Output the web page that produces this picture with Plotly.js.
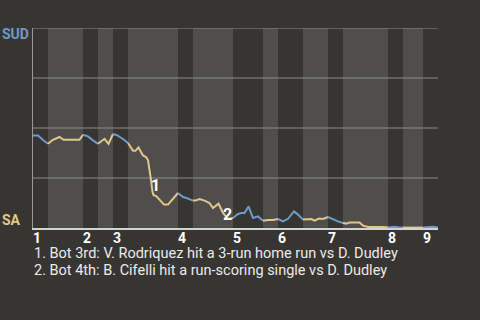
<!DOCTYPE html>
<html>
<head>
<meta charset="utf-8">
<script src="https://cdn.plot.ly/plotly-3.0.1.min.js"></script>
<style>
  html, body { margin: 0; padding: 0; background: #373531; }
  #chart { width: 480px; height: 320px; }
</style>
</head>
<body>
<div id="chart"></div>
<script>
// Plate-appearance index along the game and SUD win probability after each event
const playX = [
  0, 1, 2, 3,
  4, 5.3, 6.1, 9.3, 10,
  11, 12, 13,
  14.3, 15.1, 16,
  16.7, 18, 19,
  20, 20.5, 21.1, 22, 22.6, 23, 23.3, 23.6, 23.9, 24.1, 24.7, 25.3, 26.2, 27, 27.7, 28.3, 29,
  30, 30.7, 31.9, 32,
  32.5, 33.3, 34.3, 35.3, 36, 37.1, 38, 39, 40,
  41, 41.7, 42.3, 43.1, 44, 45, 46,
  47, 48, 49,
  50, 51, 52.2, 53, 53.9, 54,
  55, 55.7, 56.3, 57.2, 58, 58.7, 59,
  60, 61, 62,
  62.7, 63.3, 65.3, 66, 67, 70, 71,
  72.3, 73.3, 74,
  78,
  80, 81
];
const sudWinProb = [
  0.462, 0.462, 0.44, 0.421,
  0.441, 0.455, 0.441, 0.441, 0.466,
  0.458, 0.438, 0.421,
  0.446, 0.421, 0.47,
  0.465, 0.445, 0.425,
  0.386, 0.386, 0.403, 0.363, 0.355, 0.34, 0.3, 0.24, 0.18, 0.165, 0.158, 0.142, 0.117, 0.117, 0.137, 0.158, 0.175,
  0.155, 0.15, 0.137, 0.137,
  0.137, 0.145, 0.137, 0.125, 0.1, 0.122, 0.075, 0.045, 0.05,
  0.07, 0.075, 0.075, 0.108, 0.05, 0.058, 0.036,
  0.04, 0.04, 0.045,
  0.033, 0.046, 0.083, 0.067, 0.045, 0.042,
  0.042, 0.045, 0.037, 0.047, 0.045, 0.05, 0.055,
  0.042, 0.033, 0.025,
  0.022, 0.028, 0.028, 0.012, 0.005, 0.005, 0.002,
  0.006, 0.002, 0.002,
  0.002,
  0.006, 0.003
];

// Half-inning boundaries (top, bottom, top, ...) in plate-appearance units
const halfInningEdges = [0, 3, 10, 13, 16, 19, 29, 32, 40, 46, 49, 54, 59, 62, 71, 74, 78, 81];
const inningLabels = ['1', '2', '3', '4', '5', '6', '7', '8', '9'];
const gridLevels = [0.25, 0.5, 0.75, 1];

// Key plays marked on the line
const keyPlayLabels = ['1', '2'];
const keyPlayX = [24.5, 38.8];
const keyPlayY = [0.215, 0.069];
const keyPlayNotes = [
  '1. Bot 3rd: V. Rodriquez hit a 3-run home run vs D. Dudley',
  '2. Bot 4th: B. Cifelli hit a run-scoring single vs D. Dudley'
];

const awayColor = '#7099cc';
const homeColor = '#e2c68a';
const bgColor = '#373531';
const bandColor = '#4f4e4c';
const gridColor = '#8c8b89';

const traces = [];
const shapes = [];
for (let i = 0; i < halfInningEdges.length - 1; i++) {
  const x0 = halfInningEdges[i], x1 = halfInningEdges[i + 1];
  const isTop = i % 2 === 0;
  shapes.push({
    type: 'rect', xref: 'x', yref: 'paper', x0: x0, x1: x1, y0: 0, y1: 1,
    fillcolor: isTop ? bgColor : bandColor, line: { width: 0 }, layer: 'below'
  });
  const xs = [], ys = [];
  playX.forEach((x, k) => {
    if (x >= x0 && x <= x1) { xs.push(x); ys.push(sudWinProb[k]); }
  });
  traces.push({
    type: 'scatter', mode: 'lines', x: xs, y: ys,
    line: { color: isTop ? awayColor : homeColor, width: 2 },
    hoverinfo: 'skip', showlegend: false
  });
}
// horizontal grid drawn over the half-inning bands
gridLevels.forEach(g => {
  shapes.push({
    type: 'line', xref: 'paper', yref: 'y', x0: 0, x1: 1, y0: g, y1: g,
    line: { color: gridColor, width: 1.2 }, layer: 'below'
  });
});

const inningStarts = halfInningEdges.filter((_, i) => i % 2 === 0).slice(0, inningLabels.length);

const annotations = [];
keyPlayLabels.forEach((t, i) => {
  annotations.push({
    x: keyPlayX[i], y: keyPlayY[i], xref: 'x', yref: 'y', text: '<b>' + t + '</b>',
    showarrow: false, font: { family: 'Roboto', size: 16, color: '#ffffff' },
    xanchor: 'center', yanchor: 'middle'
  });
});
keyPlayNotes.forEach((t, i) => {
  annotations.push({
    x: -0.002, y: -0.125 - i * 0.0875, xref: 'paper', yref: 'paper', text: t,
    showarrow: false, font: { family: 'Roboto', size: 14.5, color: '#ebebeb' },
    xanchor: 'left', yanchor: 'middle'
  });
});
annotations.push({
  x: -0.082, y: 0.97, xref: 'paper', yref: 'paper', text: '<b>SUD</b>',
  showarrow: false, font: { family: 'Roboto', size: 14, color: awayColor },
  xanchor: 'left', yanchor: 'middle'
});
annotations.push({
  x: -0.082, y: 0.04, xref: 'paper', yref: 'paper', text: '<b>SA</b>',
  showarrow: false, font: { family: 'Roboto', size: 14, color: homeColor },
  xanchor: 'left', yanchor: 'middle'
});

const layout = {
  width: 480, height: 320,
  margin: { l: 33, r: 42, t: 28, b: 92 },
  paper_bgcolor: bgColor, plot_bgcolor: bgColor,
  showlegend: false,
  xaxis: {
    range: [0, 81], showgrid: false, zeroline: false,
    showline: true, linecolor: '#d2d2d2', linewidth: 1.5,
    tickmode: 'array', tickvals: inningStarts, ticktext: inningLabels.map(t => '<b>' + t + '</b>'),
    ticks: '', ticklabelshift: 4, ticklabelstandoff: -3,
    tickfont: { family: 'Roboto', size: 14, color: '#ffffff' },
    fixedrange: true
  },
  yaxis: {
    range: [0, 1], showgrid: false, showticklabels: false, ticks: '',
    zeroline: false, showline: true, linecolor: '#9a9996', linewidth: 1,
    fixedrange: true
  },
  shapes: shapes,
  annotations: annotations
};

Plotly.newPlot('chart', traces, layout, { displayModeBar: false, staticPlot: true });
</script>
</body>
</html>
